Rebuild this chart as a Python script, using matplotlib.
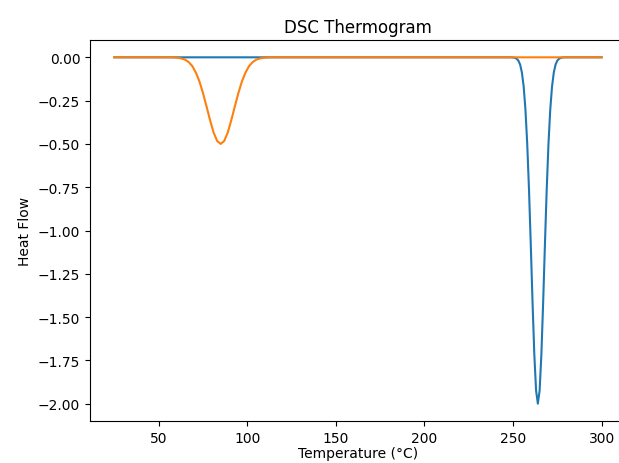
import matplotlib
matplotlib.use("Agg")
import matplotlib.pyplot as plt

# blue trace: sharp melting dip near 264 C
temp_a = [25, 249, 250, 251, 252, 253, 254, 255, 256, 257, 258, 259, 260, 261, 262, 263,
          264, 265, 266, 267, 268, 269, 270, 271, 272, 273, 274, 275, 276, 277, 278, 279, 300]
flow_a = [0, 0, -0.001, -0.003, -0.008, -0.019, -0.042, -0.088, -0.169, -0.302, -0.499, -0.762,
          -1.079, -1.413, -1.714, -1.924, -2.0, -1.924, -1.714, -1.413, -1.079, -0.762, -0.499,
          -0.302, -0.169, -0.088, -0.042, -0.019, -0.008, -0.003, -0.001, 0, 0]

# orange trace: broad dip near 85 C
temp_b = [25, 57, 59, 61, 63, 65, 67, 69, 71, 73, 75, 77, 79, 81, 83, 85,
          87, 89, 91, 93, 95, 97, 99, 101, 103, 105, 107, 109, 111, 113, 300]
flow_b = [0, 0, -0.001, -0.003, -0.007, -0.014, -0.028, -0.051, -0.088, -0.139, -0.206, -0.283,
          -0.363, -0.434, -0.483, -0.5, -0.483, -0.434, -0.363, -0.283, -0.206, -0.139, -0.088,
          -0.051, -0.028, -0.014, -0.007, -0.003, -0.001, 0, 0]

fig = plt.figure(figsize=(6.19, 4.64), dpi=100)
ax = fig.add_axes([90/619, 1-422/464, 536/619, 381/464])
ax.plot(temp_a, flow_a)
ax.plot(temp_b, flow_b)
ax.spines["right"].set_visible(False)
ax.set_title("DSC Thermogram")
ax.set_xlabel("Temperature (°C)", labelpad=1)
ax.set_ylabel("Heat Flow")

fig.savefig("out.png", dpi=100)
